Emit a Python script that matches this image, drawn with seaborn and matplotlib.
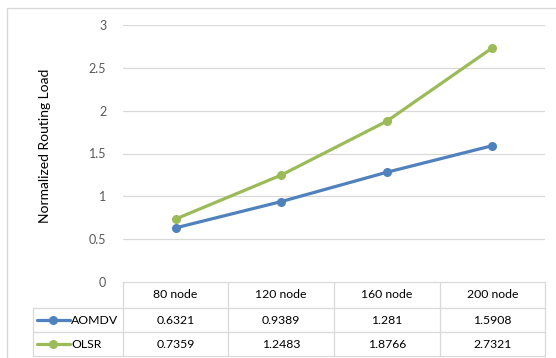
import matplotlib
matplotlib.use("Agg")
import matplotlib.pyplot as plt
from matplotlib.lines import Line2D
from matplotlib.patches import Rectangle
import seaborn as sns
import pandas as pd

# Data
categories = ["80 node", "120 node", "160 node", "200 node"]
aomdv = [0.6321, 0.9389, 1.281, 1.5908]
olsr = [0.7359, 1.2483, 1.8766, 2.7321]
aomdv_labels = ["0.6321", "0.9389", "1.281", "1.5908"]
olsr_labels = ["0.7359", "1.2483", "1.8766", "2.7321"]
series_names = ["AOMDV", "OLSR"]
y_ticks = [0, 0.5, 1, 1.5, 2, 2.5, 3]
y_tick_labels = ["0", "0.5", "1", "1.5", "2", "2.5", "3"]
y_label = "Normalized Routing Load"

colors = {"AOMDV": "#4F81BD", "OLSR": "#9BBB59"}
grid_color = "#D9D9D9"
text_color = "#595959"

sns.set_theme(style="white")
plt.rcParams["font.family"] = ["Lato", "DejaVu Sans"]

W, H = 556, 358
fig = plt.figure(figsize=(W / 100, H / 100), dpi=100)
fig.patch.set_facecolor("white")

def px_rect(x0, y0, x1, y1):
    return [x0 / W, 1 - y1 / H, (x1 - x0) / W, (y1 - y0) / H]

# Plot area
ax = fig.add_axes(px_rect(123, 25, 545, 282))
df = pd.DataFrame({
    "pos": list(range(len(categories))) * 2,
    "value": aomdv + olsr,
    "series": [series_names[0]] * len(categories) + [series_names[1]] * len(categories),
})
for name in series_names:
    sub = df[df["series"] == name]
    sns.lineplot(data=sub, x="pos", y="value", ax=ax, color=colors[name],
                 marker="o", markersize=6.5, markeredgewidth=0, linewidth=2.3,
                 legend=False, zorder=3)
ax.set_xlim(-0.5, len(categories) - 0.5)
ax.set_ylim(0, 3)
ax.set_yticks(y_ticks)
ax.set_yticklabels(y_tick_labels, color=text_color, fontsize=9)
ax.set_xticks([])
ax.set_xlabel("")
ax.set_ylabel("")
ax.tick_params(axis="y", length=0, pad=12)
for y in y_ticks[1:]:
    ax.axhline(y, color=grid_color, linewidth=0.9, zorder=1)
for s in ax.spines.values():
    s.set_visible(False)
ax.patch.set_alpha(0)

# Overlay in pixel coordinates for the frame, axis title and data table
ov = fig.add_axes([0, 0, 1, 1], zorder=-1)
ov.set_xlim(0, W)
ov.set_ylim(H, 0)
ov.axis("off")
ov.add_patch(Rectangle((7, 8), 600, 400, fill=False, edgecolor=grid_color, linewidth=1.0))

ov.text(45, 146, y_label, rotation=90, ha="center", va="center", fontsize=10, color="#000000")

tbl = fig.add_axes([0, 0, 1, 1], zorder=5)
tbl.set_xlim(0, W)
tbl.set_ylim(H, 0)
tbl.axis("off")
tbl.patch.set_alpha(0)

col_edges = [123, 228, 334, 440, 545]
row_edges = [282, 308, 332, 356]
lc = grid_color
# horizontal lines
tbl.plot([123, 545], [282, 282], color=lc, lw=0.9)
for y in row_edges[1:]:
    tbl.plot([33, 545], [y, y], color=lc, lw=0.9)
# vertical lines
tbl.plot([33, 33], [308, 356], color=lc, lw=0.9)
for x in col_edges:
    tbl.plot([x, x], [282, 356], color=lc, lw=0.9)

fs = 8.8
for i, cat in enumerate(categories):
    cx = (col_edges[i] + col_edges[i + 1]) / 2
    tbl.text(cx, 295, cat, ha="center", va="center", fontsize=fs, color="#000000")
    tbl.text(cx, 320, aomdv_labels[i], ha="center", va="center", fontsize=fs, color="#000000")
    tbl.text(cx, 344, olsr_labels[i], ha="center", va="center", fontsize=fs, color="#000000")

for name, yc in zip(series_names, [320, 344]):
    tbl.add_line(Line2D([37, 70], [yc, yc], color=colors[name], lw=2.3))
    tbl.add_line(Line2D([53], [yc], color=colors[name], marker="o", markersize=6.5, markeredgewidth=0))
    tbl.text(71, yc, name, ha="left", va="center", fontsize=fs, color="#000000")

fig.savefig("out.png", dpi=100)
